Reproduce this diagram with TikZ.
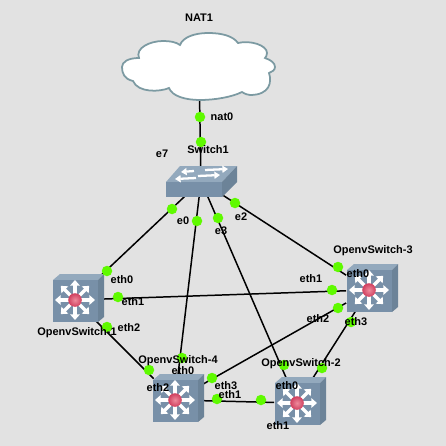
\documentclass[tikz,border=0pt]{standalone}
\usepackage{fontspec}
\setmainfont{Liberation Sans}
\usetikzlibrary{arrows.meta, positioning}

\definecolor{canvas}{HTML}{E2E2E2}
\definecolor{linkgreen}{HTML}{5FFA00}
\definecolor{devfront}{HTML}{7890A8}
\definecolor{devtop}{HTML}{93A9BD}
\definecolor{devside}{HTML}{6C8398}
\definecolor{cloudedge}{HTML}{7C9AA2}
\definecolor{ballin}{HTML}{EE8A9C}
\definecolor{ballout}{HTML}{D0405F}

\begin{document}
\begin{tikzpicture}[
    x=0.02cm, y=-0.02cm,
    devbox/.style={rectangle, minimum width=0.9cm, minimum height=0.84cm, inner sep=0pt},
    hubbox/.style={rectangle, minimum width=1.1cm, minimum height=0.5cm, inner sep=0pt},
    cloudbox/.style={rectangle, minimum width=3cm, minimum height=1.2cm, inner sep=0pt},
    link/.style={line width=0.85pt, black},
    portdot/.style={circle, fill=linkgreen, minimum size=0.21cm, inner sep=0pt},
    lbl/.style={font=\bfseries\fontsize{6.25}{7}\selectfont, inner sep=0pt, text=black},
    spoke/.style={white, line width=2pt, -{Triangle[width=5.4pt,length=3.2pt]}},
    hubarrow/.style={white, line width=1.3pt, -{Triangle[width=4pt,length=3.2pt]}},
    ovsicon/.pic={
        \fill[devtop] (-22,-20) -- (-15,-26) -- (29,-26) -- (23,-20) -- cycle;
        \fill[devside] (23,-20) -- (29,-26) -- (29,17) -- (23,22) -- cycle;
        \fill[devfront] (-22,-20) rectangle (23,22);
        \foreach \a in {0,45,...,315} {
            \draw[spoke] (\a:6) -- (\a:20);
        }
        \shade[inner color=ballin, outer color=ballout] (0,0) circle (6.8);
    }
]

\fill[canvas] (0,0) rectangle (446,446);
\useasboundingbox (0,0) rectangle (446,446);

% Devices
\node[cloudbox] (nat1) at (199,67) {};
\node[hubbox] (sw1) at (201,181) {};
\node[devbox] (ovs1) at (75,300) {};
\node[devbox] (ovs2) at (297,403) {};
\node[devbox] (ovs3) at (369,290) {};
\node[devbox] (ovs4) at (175,400) {};

% Links
\draw[link] (nat1) -- (sw1);
\draw[link] (sw1) -- (ovs1);
\draw[link] (sw1) -- (ovs4);
\draw[link] (sw1) -- (ovs2);
\draw[link] (sw1) -- (ovs3);
\draw[link] (ovs1) -- (ovs3);
\draw[link] (ovs1) -- (ovs4);
\draw[link] (ovs3) -- (ovs4);
\draw[link] (ovs3) -- (ovs2);
\draw[link] (ovs4) -- (ovs2);

% Cloud
\draw[fill=white, draw=cloudedge, line width=1pt] (133,81)
    .. controls (124,79) and (122,73) .. (122,67)
    .. controls (122,62) and (128,58) .. (139,58)
    .. controls (135,48) and (150,41) .. (163,41)
    .. controls (170,41) and (176,42) .. (180,45)
    .. controls (183,37) and (195,33) .. (208,33)
    .. controls (222,33) and (233,36) .. (238,43)
    .. controls (250,40) and (267,45) .. (267,53)
    .. controls (267,55) and (266,57) .. (265,58)
    .. controls (271,60) and (275,63) .. (275,67)
    .. controls (275,70) and (272,72) .. (269,73)
    .. controls (272,82) and (270,95) .. (250,95)
    .. controls (248,95) and (245,94) .. (242,92)
    .. controls (232,97) and (215,100) .. (200,100)
    .. controls (185,100) and (172,96) .. (169,88)
    .. controls (160,92) and (138,93) .. (133,81) -- cycle;

% Switch1
\fill[devtop] (166,182) -- (180,166) -- (237,166) -- (222,182) -- cycle;
\fill[devside] (222,182) -- (237,166) -- (237,182) -- (222,197) -- cycle;
\fill[devfront] (166,182) rectangle (222,197);
\draw[hubarrow] (194,171) -- (181,172);
\draw[hubarrow] (205,170) -- (228,169);
\draw[hubarrow] (196,178) -- (175,179);
\draw[hubarrow] (198,176) -- (220,175);

% OpenvSwitch icons
\pic at (ovs1) {ovsicon};
\pic at (ovs2) {ovsicon};
\pic at (ovs3) {ovsicon};
\pic at (ovs4) {ovsicon};

% Port dots
\node[portdot] (d0) at (200,117) {};
\node[portdot] (d1) at (201,142) {};
\node[portdot] (d2) at (172,209) {};
\node[portdot] (d3) at (197,221) {};
\node[portdot] (d4) at (218,218) {};
\node[portdot] (d5) at (235,203) {};
\node[portdot] (d6) at (107,271) {};
\node[portdot] (d7) at (118,297) {};
\node[portdot] (d8) at (107,327) {};
\node[portdot] (d9) at (149,370) {};
\node[portdot] (d10) at (182,358) {};
\node[portdot] (d11) at (212,378) {};
\node[portdot] (d12) at (217,399) {};
\node[portdot] (d13) at (261,400) {};
\node[portdot] (d14) at (284,365) {};
\node[portdot] (d15) at (322,368) {};
\node[portdot] (d16) at (338,267) {};
\node[portdot] (d17) at (332,290) {};
\node[portdot] (d18) at (338,308) {};
\node[portdot] (d19) at (351,322) {};

% Labels
\node[lbl] (tnat1) at (199,18) {NAT1};
\node[lbl] (tnat0) at (222,117) {nat0};
\node[lbl] (tsw1) at (208,150) {Switch1};
\node[lbl] (te7) at (162,154) {e7};
\node[lbl] (te0) at (183,221) {e0};
\node[lbl] (te3) at (221,231) {e3};
\node[lbl] (te2) at (241,217) {e2};

\node[lbl] (tovs1) at (77,333) {OpenvSwitch-1};
\node[lbl] (t1a) at (122,280) {eth0};
\node[lbl] (t1b) at (133,302) {eth1};
\node[lbl] (t1c) at (129,328) {eth2};

\node[lbl] (tovs3) at (373,251) {OpenvSwitch-3};
\node[lbl] (t3a) at (358,274) {eth0};
\node[lbl] (t3b) at (311,279) {eth1};
\node[lbl] (t3c) at (318,319) {eth2};
\node[lbl] (t3d) at (356,322) {eth3};

\node[lbl] (tovs4) at (178,361) {OpenvSwitch-4};
\node[lbl] (t4a) at (183,371) {eth0};
\node[lbl] (t4b) at (158,388) {eth2};
\node[lbl] (t4c) at (226,386) {eth3};
\node[lbl] (t4d) at (230,395) {eth1};

\node[lbl] (tovs2) at (301,364) {OpenvSwitch-2};
\node[lbl] (t2a) at (287,386) {eth0};
\node[lbl] (t2b) at (278,426) {eth1};

\end{tikzpicture}
\end{document}
